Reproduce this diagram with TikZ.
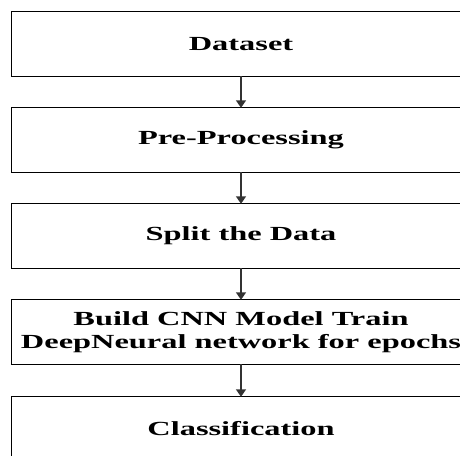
\documentclass[tikz,border=0pt]{standalone}
\usepackage{fontspec}
\setmainfont{Liberation Serif}[FakeStretch=1.62]
\usetikzlibrary{arrows.meta}
\tikzset{
  stepbox/.style={minimum width=458pt, minimum height=64pt,
    inner sep=0pt, align=center, font=\fontsize{20}{23}\selectfont\bfseries, text=black},
  boxline/.style={draw=black, line width=1.3pt},
  flowarrow/.style={draw=black!80, line width=1.4pt, -{Triangle[width=10pt,length=7.5pt]}}
}
\begin{document}
\begin{tikzpicture}[x=1pt,y=-1pt]
\useasboundingbox (0,0) rectangle (460,455);
\clip (0,0) rectangle (460,455);
\node[stepbox] (dataset) at (241,44) {Dataset};
\node[stepbox] (pre) at (241,140) {Pre-Processing};
\node[stepbox] (split) at (241,236) {Split the Data};
\node[stepbox] (build) at (241,332) {Build CNN Model Train\\DeepNeural network for epochs};
\node[stepbox] (class) at (241,429) {Classification};
\foreach \n in {dataset,pre,split,build,class}
  \draw[boxline] (\n.north west) rectangle ([xshift=40pt]\n.south east);
\draw[flowarrow] (dataset.south) -- (pre.north);
\draw[flowarrow] (pre.south) -- (split.north);
\draw[flowarrow] (split.south) -- (build.north);
\draw[flowarrow] (build.south) -- (class.north);
\end{tikzpicture}
\end{document}
